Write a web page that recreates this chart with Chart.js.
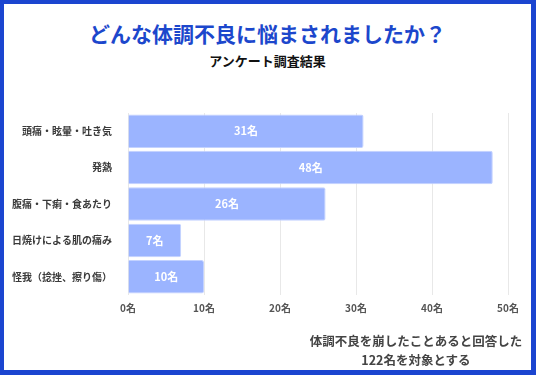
<!DOCTYPE html>
<html lang="ja">
<head>
<meta charset="utf-8">
<script src="https://cdn.jsdelivr.net/npm/chart.js@4"></script>
<style>
    html, body { margin: 0; padding: 0; }
    body {
        width: 536px; height: 375px; box-sizing: border-box;
        border: 4px solid #1b45d0; border-right-width: 5px; border-bottom-width: 5px;
        position: relative; overflow: hidden; background: #fff;
        font-family: 'Noto Sans CJK JP', 'Noto Sans', sans-serif;
    }
    .title { position: absolute; left: 0; width: 527px; top: 14px; text-align: center;
        font-size: 21px; font-weight: bold; color: #1c47cc; line-height: 30px; }
    .subtitle { position: absolute; left: 0; width: 527px; top: 47px; text-align: center;
        font-size: 13px; font-weight: bold; color: #111; line-height: 20px; }
    .note { position: absolute; left: 294px; width: 236px; top: 327px; text-align: center;
        font-size: 12.5px; font-weight: bold; color: #444; line-height: 19px; }
    #wrap { position: absolute; left: -4px; top: -4px; width: 536px; height: 375px; }
</style>
</head>
<body>
<div class="title">どんな体調不良に悩まされましたか？</div>
<div class="subtitle">アンケート調査結果</div>
<div id="wrap"><canvas id="chart"></canvas></div>
<div class="note">体調不良を崩したことあると回答した<br>122名を対象とする</div>
<script>
// カテゴリと人数
const categories = ['頭痛・眩暈・吐き気', '発熱', '腹痛・下痢・食あたり', '日焼けによる肌の痛み', '怪我（捻挫、擦り傷）'];
const counts = [31, 48, 26, 7, 10];
const xTicks = [0, 10, 20, 30, 40, 50];

// バーの中に「31名」などを描く
const barLabels = {
    id: 'barLabels',
    afterDatasetsDraw(chart) {
        const ctx = chart.ctx;
        const meta = chart.getDatasetMeta(0);
        ctx.save();
        ctx.fillStyle = '#ffffff';
        ctx.font = "bold 11px 'Noto Sans CJK JP', sans-serif";
        ctx.textAlign = 'center';
        ctx.textBaseline = 'middle';
        meta.data.forEach((bar, i) => {
            ctx.fillText(counts[i] + '名', (bar.x + bar.base) / 2, bar.y);
        });
        ctx.restore();
    }
};

new Chart(document.getElementById('chart'), {
    type: 'bar',
    data: {
        labels: categories,
        datasets: [{
            data: counts,
            backgroundColor: '#9bb4ff',
            borderColor: '#c3d2ff',
            borderWidth: 1,
            borderRadius: 2,
            borderSkipped: 'start',
            barPercentage: 0.92,
            categoryPercentage: 1
        }]
    },
    options: {
        indexAxis: 'y',
        responsive: true,
        maintainAspectRatio: false,
        animation: false,
        layout: { padding: { left: 0, right: 28, top: 113, bottom: 58 } },
        plugins: { legend: { display: false }, tooltip: { enabled: false } },
        scales: {
            x: {
                min: 0, max: 50,
                afterBuildTicks: (s) => { s.ticks = xTicks.map(v => ({ value: v })); },
                afterFit: (s) => { s.height = 22; },
                grid: { color: '#e8e8e8', drawTicks: false },
                border: { display: false },
                ticks: {
                    padding: 7,
                    color: '#555',
                    font: { family: 'Noto Sans CJK JP', size: 10, weight: 'bold' },
                    callback: (v) => v + '名'
                }
            },
            y: {
                afterFit: (s) => { s.width = 128; },
                grid: { display: false },
                border: { display: false },
                ticks: {
                    padding: 8,
                    color: '#3a3a3a',
                    font: { family: 'Noto Sans CJK JP', size: 10, weight: 'bold' }
                }
            }
        }
    },
    plugins: [barLabels]
});
</script>
</body>
</html>
